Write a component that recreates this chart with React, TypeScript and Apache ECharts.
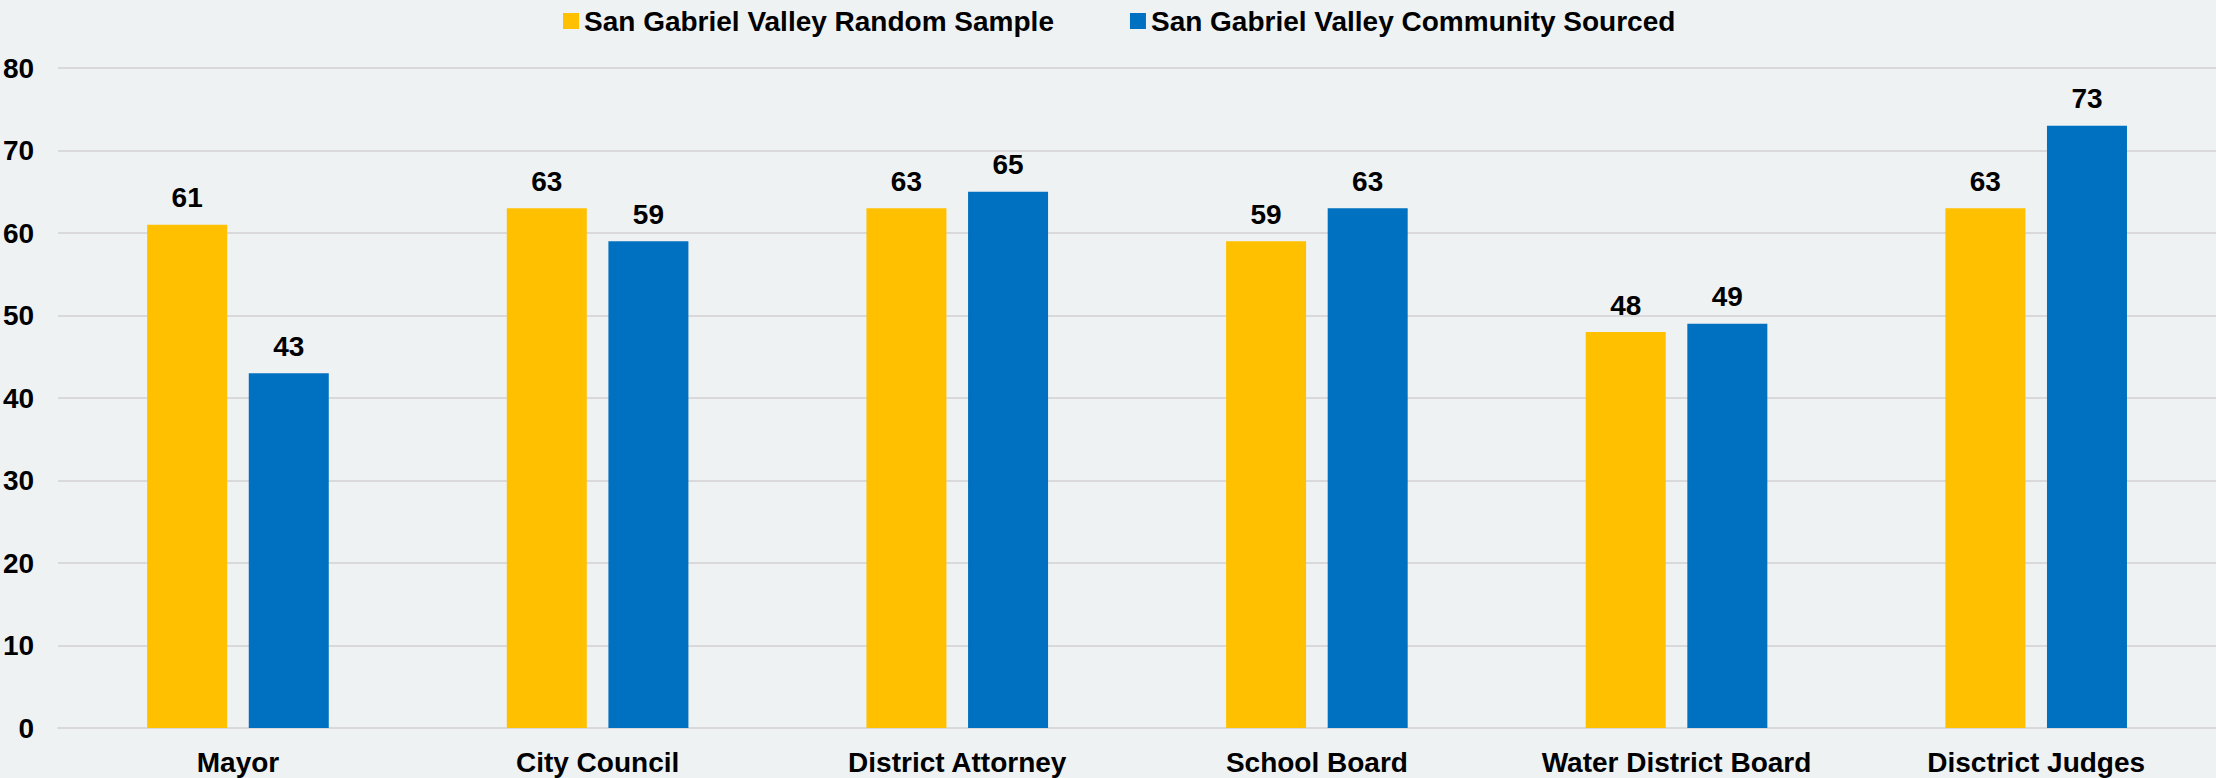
import React, { useEffect, useRef } from "react";
import * as echarts from "echarts";

const categories = ["Mayor", "City Council", "District Attorney", "School Board", "Water District Board", "Disctrict Judges"];
const seriesNames = ["San Gabriel Valley Random Sample", "San Gabriel Valley Community Sourced"];
const randomSample = [61, 63, 63, 59, 48, 63];
const communitySourced = [43, 59, 65, 63, 49, 73];
const yTicks = { min: 0, max: 80, interval: 10 };

const FONT = "Arial, 'Liberation Sans', sans-serif";

export default function App() {
  const ref = useRef<HTMLDivElement>(null);
  useEffect(() => {
    if (!ref.current) return;
    const chart = echarts.init(ref.current, undefined, { renderer: "svg" });
    const labelStyle = {
      show: true,
      position: "top" as const,
      distance: 13,
      color: "#000",
      fontSize: 28,
      fontWeight: "bold" as const,
      fontFamily: FONT,
    };
    chart.setOption({
      animation: false,
      backgroundColor: "#EEF2F3",
      legend: {
        top: 2,
        left: 558,
        itemWidth: 16,
        itemHeight: 16,
        itemGap: 76,
        icon: "rect",
        textStyle: { fontSize: 28, fontWeight: "bold", color: "#000", fontFamily: FONT },
        data: seriesNames,
      },
      grid: { left: 57, right: 0, top: 68, bottom: 50, containLabel: false },
      xAxis: {
        type: "category",
        data: categories,
        axisLine: { show: true, lineStyle: { color: "#D9D9DB", width: 2 } },
        axisTick: { show: false },
        axisLabel: { margin: 20, fontSize: 28, fontWeight: "bold", color: "#000", fontFamily: FONT },
      },
      yAxis: {
        type: "value",
        min: yTicks.min,
        max: yTicks.max,
        interval: yTicks.interval,
        axisLine: { show: false },
        axisTick: { show: false },
        splitLine: { lineStyle: { color: "#D9D9DB", width: 2 } },
        axisLabel: { margin: 24, fontSize: 28, fontWeight: "bold", color: "#000", fontFamily: FONT },
      },
      series: [
        {
          name: seriesNames[0],
          type: "bar",
          data: randomSample,
          barWidth: 80,
          barGap: "27%",
          itemStyle: { color: "#FFC000" },
          label: labelStyle,
        },
        {
          name: seriesNames[1],
          type: "bar",
          data: communitySourced,
          barWidth: 80,
          barGap: "27%",
          itemStyle: { color: "#0070C0" },
          label: labelStyle,
        },
      ],
    });
    return () => chart.dispose();
  }, []);
  return (
    <div
      ref={ref}
      style={{ position: "fixed", left: 0, top: 0, width: 2216, height: 778 }}
    />
  );
}
